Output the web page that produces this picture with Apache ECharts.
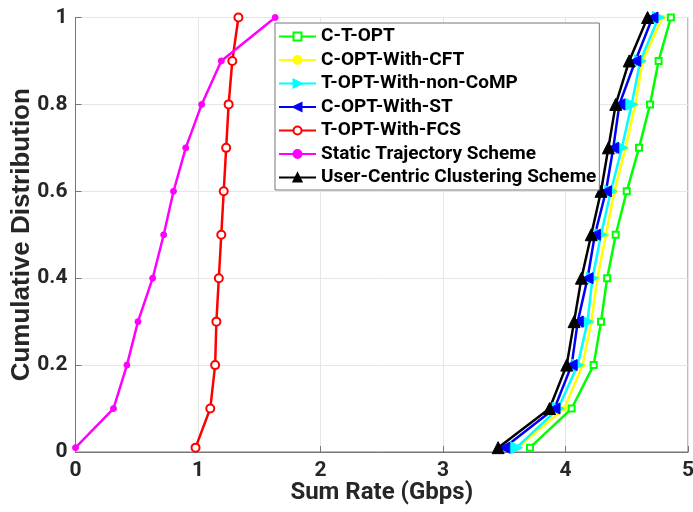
<!DOCTYPE html>
<html>
<head>
<meta charset="utf-8">
<script src="https://cdn.jsdelivr.net/npm/echarts@6/dist/echarts.min.js"></script>
<style>
html,body{margin:0;padding:0;background:#fff;}
#chart{width:693px;height:512px;}
</style>
</head>
<body>
<div id="chart"></div>
<script>
// Cumulative distribution levels (y values)
var cdfLevels = [0.01, 0.1, 0.2, 0.3, 0.4, 0.5, 0.6, 0.7, 0.8, 0.9, 1.0];

// Sum rate (Gbps) per scheme at each level
var ctOpt        = [3.71, 4.05, 4.23, 4.29, 4.34, 4.41, 4.50, 4.60, 4.69, 4.76, 4.86];
var cOptWithCft  = [3.61, 3.99, 4.14, 4.21, 4.26, 4.33, 4.40, 4.49, 4.57, 4.63, 4.79];
var tOptNonComp  = [3.60, 3.94, 4.10, 4.18, 4.22, 4.29, 4.37, 4.46, 4.54, 4.61, 4.76];
var cOptWithSt   = [3.50, 3.91, 4.05, 4.10, 4.18, 4.24, 4.33, 4.39, 4.44, 4.57, 4.71];
var tOptWithFcs  = [0.98, 1.10, 1.14, 1.15, 1.17, 1.19, 1.21, 1.23, 1.25, 1.28, 1.33];
var staticTraj   = [0.00, 0.31, 0.42, 0.51, 0.63, 0.72, 0.80, 0.90, 1.03, 1.19, 1.63];
var userCentric  = [3.45, 3.87, 4.01, 4.07, 4.13, 4.21, 4.29, 4.35, 4.41, 4.52, 4.67];

var seriesNames = ['C-T-OPT', 'C-OPT-With-CFT', 'T-OPT-With-non-CoMP', 'C-OPT-With-ST',
                   'T-OPT-With-FCS', 'Static Trajectory Scheme', 'User-Centric Clustering Scheme'];
var xTicks = [0, 1, 2, 3, 4, 5];
var yTicks = [0, 0.2, 0.4, 0.6, 0.8, 1];

function pairs(xs) { return xs.map(function (x, i) { return [x, cdfLevels[i]]; }); }

var NARROW = 'Roboto, Arial, sans-serif';
var FONT = 'Arial, "Liberation Sans", Helvetica, sans-serif';

function mk(name, xs, color, symbol, size, rot, hollow) {
  return {
    name: name, type: 'line', data: pairs(xs),
    symbol: symbol, symbolSize: size, symbolRotate: rot || 0,
    showAllSymbol: true,
    lineStyle: { color: color, width: 2.5 },
    itemStyle: hollow ? { color: '#fff', borderColor: color, borderWidth: 2 } : { color: color, borderColor: color, borderWidth: 1 },
    emphasis: { disabled: true },
    animation: false
  };
}

var chart = echarts.init(document.getElementById('chart'), null, { renderer: 'canvas' });
chart.setOption({
  backgroundColor: '#fff',
  animation: false,
  grid: { left: 75.5, right: 5, top: 17.5, bottom: 60, containLabel: false, outerBoundsMode: 'none',
          show: true, borderColor: '#777', borderWidth: 1, backgroundColor: 'transparent' },
  legend: {
    orient: 'vertical', left: 275, top: 23,
    backgroundColor: '#fff', borderColor: '#777', borderWidth: 1,
    padding: [4, 3, 3, 3], itemGap: 4.5, itemWidth: 37, itemHeight: 10,
    textStyle: { fontFamily: NARROW, fontWeight: 'bold', fontSize: 19, color: '#000', lineHeight: 19 },
    data: seriesNames
  },
  xAxis: {
    type: 'value', min: 0, max: 5, interval: 1,
    name: 'Sum Rate (Gbps)', nameLocation: 'middle', nameGap: 29, nameMoveOverlap: false,
    nameTextStyle: { fontFamily: NARROW, fontWeight: 'bold', fontSize: 24, color: '#262626' },
    axisLine: { show: true, lineStyle: { color: '#777', width: 1 } },
    axisTick: { show: true, inside: true, length: 6, lineStyle: { color: '#777' } },
    axisLabel: { fontFamily: NARROW, fontWeight: 'bold', fontSize: 21, color: '#262626', margin: 8,
      formatter: function (v) { return xTicks.indexOf(v) >= 0 ? String(v) : ''; } },
    splitLine: { show: true, lineStyle: { color: '#e6e6e6', width: 1 } }
  },
  yAxis: {
    type: 'value', min: 0, max: 1, interval: 0.2,
    name: 'Cumulative Distribution', nameLocation: 'middle', nameGap: 41, nameMoveOverlap: false,
    nameTextStyle: { fontFamily: FONT, fontWeight: 'bold', fontSize: 26, color: '#262626' },
    axisLine: { show: true, lineStyle: { color: '#777', width: 1 } },
    axisTick: { show: true, inside: true, length: 6, lineStyle: { color: '#777' } },
    axisLabel: { fontFamily: NARROW, fontWeight: 'bold', fontSize: 21, color: '#262626', margin: 8,
      formatter: function (v) { var r = Math.round(v * 10) / 10; return yTicks.indexOf(r) >= 0 ? String(r) : ''; } },
    splitLine: { show: true, lineStyle: { color: '#e6e6e6', width: 1 } }
  },
  series: [
    mk(seriesNames[0], ctOpt, '#00ff00', 'rect', 6, 0, true),
    mk(seriesNames[1], cOptWithCft, '#ffff00', 'circle', 5, 0, false),
    mk(seriesNames[2], tOptNonComp, '#00ffff', 'triangle', 12, -90, false),
    mk(seriesNames[3], cOptWithSt, '#0000ff', 'triangle', 11, 90, false),
    mk(seriesNames[4], tOptWithFcs, '#ff0000', 'circle', 8, 0, true),
    mk(seriesNames[5], staticTraj, '#ff00ff', 'circle', 6, 0, false),
    mk(seriesNames[6], userCentric, '#000000', 'triangle', 12, 0, false)
  ]
});
</script>
</body>
</html>
